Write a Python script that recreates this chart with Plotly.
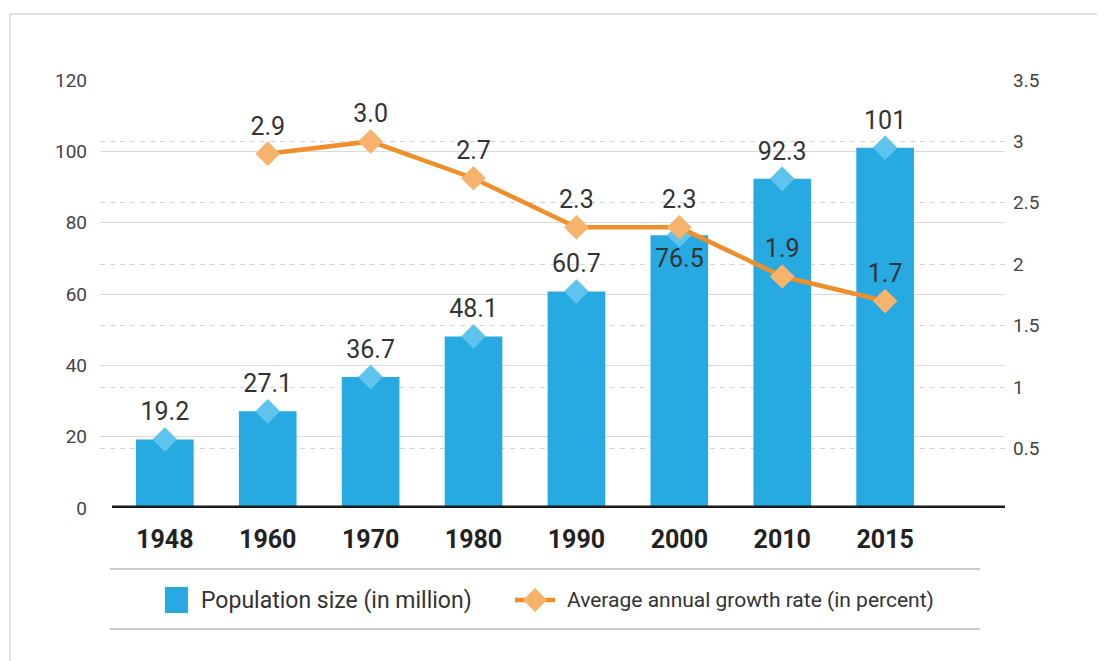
import plotly.graph_objects as go

years = ["1948", "1960", "1970", "1980", "1990", "2000", "2010", "2015"]
population = [19.2, 27.1, 36.7, 48.1, 60.7, 76.5, 92.3, 101]
pop_labels = ["19.2", "27.1", "36.7", "48.1", "60.7", "76.5", "92.3", "101"]
growth_years = ["1960", "1970", "1980", "1990", "2000", "2010", "2015"]
growth = [2.9, 3.0, 2.7, 2.3, 2.3, 1.9, 1.7]
growth_labels = ["2.9", "3.0", "2.7", "2.3", "2.3", "1.9", "1.7"]
left_ticks = [0, 20, 40, 60, 80, 100, 120]
right_ticks = [0.5, 1, 1.5, 2, 2.5, 3, 3.5]
right_tick_text = ["0.5", "1", "1.5", "2", "2.5", "3", "3.5"]

BAR = "#27A9E1"
BAR_DIAMOND = "#5EC4EE"
LINE = "#EF8F2B"
LINE_DIAMOND = "#F6B36C"
FONT = "Roboto"

# page offset (browser body margin)
O = 8
W, H = 1105 - O, 661 - O
# plot area in screen pixels
PX0, PX1, PY0, PY1 = 100, 1005, 80, 508
L, R, T, B = PX0 - O, (W + O) - PX1, PY0 - O, (H + O) - PY1
PW = PX1 - PX0
PH = PY1 - PY0


def px_x(px):
    return (px - PX0) / PW


def px_y(py):
    return (PY1 - py) / PH


pop_pos = ["bottom center" if y == "2000" else "top center" for y in years]

fig = go.Figure()
fig.add_trace(go.Bar(x=years, y=population, marker=dict(color=BAR, line=dict(width=0)),
                     width=0.56, yaxis="y", hoverinfo="skip", showlegend=False))
fig.add_trace(go.Scatter(x=years, y=population, mode="markers+text", text=pop_labels,
                         textposition=pop_pos,
                         textfont=dict(family=FONT, size=25, color="#333333"),
                         marker=dict(symbol="diamond", size=19, color=BAR_DIAMOND, line=dict(width=0)),
                         yaxis="y", hoverinfo="skip", showlegend=False))
fig.add_trace(go.Scatter(x=growth_years, y=growth, mode="lines+markers+text", text=growth_labels,
                         textposition="top center",
                         textfont=dict(family=FONT, size=25, color="#333333"),
                         line=dict(color=LINE, width=4.5),
                         marker=dict(symbol="diamond", size=19, color=LINE_DIAMOND, line=dict(width=0)),
                         yaxis="y2", hoverinfo="skip", showlegend=False))

shapes = []
# outer frame
shapes.append(dict(type="rect", xref="paper", yref="paper",
                   x0=px_x(10), x1=px_x(1115), y0=px_y(14), y1=px_y(680),
                   line=dict(color="#D9D9D9", width=1.5), fillcolor="rgba(0,0,0,0)", layer="below"))
# thick baseline
shapes.append(dict(type="line", xref="paper", yref="y", x0=px_x(112), x1=1, y0=0, y1=0,
                   line=dict(color="#1A1A1A", width=5)))
# legend separator lines
for py in (569, 629):
    shapes.append(dict(type="line", xref="paper", yref="paper", x0=px_x(110), x1=px_x(980),
                       y0=px_y(py), y1=px_y(py), line=dict(color="#CCCCCC", width=2)))
# legend: blue square
shapes.append(dict(type="rect", xref="paper", yref="paper", x0=px_x(165), x1=px_x(188),
                   y0=px_y(613), y1=px_y(587), fillcolor=BAR, line=dict(width=0)))
# legend: orange line with diamond
shapes.append(dict(type="line", xref="paper", yref="paper", x0=px_x(515), x1=px_x(555),
                   y0=px_y(600), y1=px_y(600), line=dict(color=LINE, width=4.5)))
cx, cy, hw = 535, 600, 12
path = "M {} {} L {} {} L {} {} L {} {} Z".format(
    px_x(cx), px_y(cy - hw), px_x(cx + hw), px_y(cy), px_x(cx), px_y(cy + hw), px_x(cx - hw), px_y(cy))
shapes.append(dict(type="path", xref="paper", yref="paper", path=path,
                   fillcolor=LINE_DIAMOND, line=dict(width=0)))

annotations = [
    dict(xref="paper", yref="paper", x=px_x(199), y=px_y(600), xanchor="left", yanchor="middle",
         text="Population size (in million)", showarrow=False,
         font=dict(family=FONT, size=23, color="#333333")),
    dict(xref="paper", yref="paper", x=px_x(565), y=px_y(600), xanchor="left", yanchor="middle",
         text="Average annual growth rate (in percent)", showarrow=False,
         font=dict(family=FONT, size=21, color="#333333")),
]

fig.update_layout(
    width=W, height=H,
    margin=dict(l=L, r=R, t=T, b=B, pad=0),
    paper_bgcolor="white", plot_bgcolor="white",
    showlegend=False,
    font=dict(family=FONT),
    xaxis=dict(type="category", range=[-0.63, 8.165], showgrid=False, zeroline=False,
               showline=False, ticks="", ticklabelstandoff=14,
               tickfont=dict(family=FONT, size=25, color="#222222", weight="bold")),
    yaxis=dict(range=[0, 120], tickvals=left_ticks, showgrid=True, gridcolor="#DADADA",
               gridwidth=1, zeroline=False, showline=False, ticks="", ticklabelstandoff=12,
               tickfont=dict(family=FONT, size=19, color="#444444")),
    yaxis2=dict(range=[0.015, 3.5], tickvals=right_ticks, ticktext=right_tick_text,
                overlaying="y", side="right", showgrid=True, gridcolor="#D6D6D6",
                griddash="5px,5px", gridwidth=1, zeroline=False, showline=False, ticks="",
                ticklabelstandoff=7, tickfont=dict(family=FONT, size=19, color="#444444")),
    shapes=shapes,
    annotations=annotations,
    bargap=0.4,
)

fig.write_html("out.html")
